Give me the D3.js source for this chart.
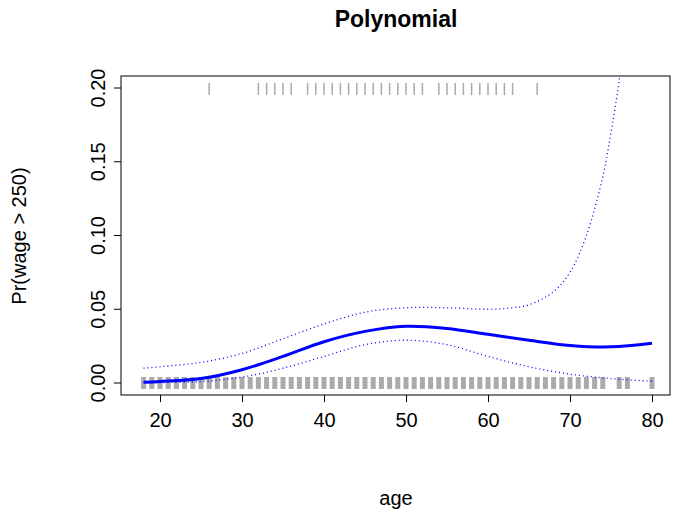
<!DOCTYPE html><html><head><script src="https://cdn.jsdelivr.net/npm/d3@7"></script>
<style>body{margin:0;background:#fff}text{font-family:"Liberation Sans",Arial,sans-serif}</style></head><body>
<svg id="c" width="673" height="513"></svg>
<script>
const ages=[18,20,25,30,35,40,45,50,55,60,65,70,75,80];
const fit=[0.0005,0.001,0.003,0.009,0.018,0.028,0.035,0.0385,0.037,0.033,0.029,0.0255,0.0245,0.027];
const upAges=[18,20,25,30,35,40,45,50,55,60,63,65,68,70,72,74,75,76,77];
const upper=[0.010,0.011,0.014,0.020,0.030,0.040,0.048,0.051,0.051,0.050,0.051,0.053,0.062,0.075,0.10,0.14,0.17,0.205,0.25];
const lower=[0.0002,0.0003,0.001,0.004,0.010,0.018,0.026,0.029,0.026,0.018,0.011,0.006,0.003,0.0012];
const topRug=[26,32,33,34,35,36,38,39,40,41,42,43,44,45,46,47,48,49,50,51,52,54,55,56,57,58,59,60,61,62,63,66];
const bottomRug=d3.range(18,81).filter(a=>![75,78,79].includes(a));
const xTicks=[20,30,40,50,60,70,80], yTicks=[0,0.05,0.10,0.15,0.20];
const svg=d3.select("#c");
const x=d3.scaleLinear().domain([20,80]).range([160,652]);
const y=d3.scaleLinear().domain([0,0.2]).range([383,88]);
const L=121,R=670,T=76,B=395;
svg.append("defs").append("clipPath").attr("id","cp").append("rect").attr("x",L).attr("y",T).attr("width",R-L).attr("height",B-T);
const g=svg.append("g").attr("clip-path","url(#cp)");
g.selectAll(".tr").data(topRug).join("line").attr("x1",d=>x(d)).attr("x2",d=>x(d)).attr("y1",83).attr("y2",95).attr("stroke","#aaa").attr("stroke-width",1.5);
g.selectAll(".br").data(bottomRug).join("rect").attr("x",d=>x(d)-2.5).attr("width",5).attr("y",377).attr("height",12).attr("fill","#aaa");
const ln=d3.line().x(d=>x(d[0])).y(d=>y(d[1])).curve(d3.curveCatmullRom);
g.append("path").attr("d",ln(upAges.map((a,i)=>[a,upper[i]]))).attr("fill","none").attr("stroke","blue").attr("stroke-dasharray","1,3").attr("stroke-width",1.3);
g.append("path").attr("d",ln(ages.map((a,i)=>[a,lower[i]]))).attr("fill","none").attr("stroke","blue").attr("stroke-dasharray","1,3").attr("stroke-width",1.3);
g.append("path").attr("d",ln(ages.map((a,i)=>[a,fit[i]]))).attr("fill","none").attr("stroke","blue").attr("stroke-width",3);
svg.append("rect").attr("x",L).attr("y",T).attr("width",R-L).attr("height",B-T).attr("fill","none").attr("stroke","#000");
const xa=svg.append("g").attr("transform",`translate(0,${B})`).call(d3.axisBottom(x).tickValues(xTicks).tickSize(7).tickPadding(8));
const ya=svg.append("g").attr("transform",`translate(${L},0)`).call(d3.axisLeft(y).tickValues(yTicks).tickFormat(d3.format(".2f")).tickSize(7));
[xa,ya].forEach(a=>{a.select(".domain").remove();a.selectAll("text").attr("font-size",20).attr("fill","#000");});
xa.selectAll("text").attr("dy","0.85em");
ya.selectAll(".tick").attr("transform","translate(0,0)");
ya.selectAll(".tick line").attr("y1",d=>y(d)).attr("y2",d=>y(d));
ya.selectAll("text").attr("x",-16).attr("y",d=>y(d)).attr("dy","0em").attr("text-anchor","middle").attr("transform",d=>`rotate(-90,-16,${y(d)})`);
svg.append("text").attr("x",396).attr("y",27).attr("text-anchor","middle").attr("font-size",23).attr("font-weight","bold").text("Polynomial");
svg.append("text").attr("x",396).attr("y",505).attr("text-anchor","middle").attr("font-size",20).text("age");
svg.append("text").attr("transform","translate(26,236) rotate(-90)").attr("text-anchor","middle").attr("font-size",20).text("Pr(wage > 250)");
</script></body></html>
